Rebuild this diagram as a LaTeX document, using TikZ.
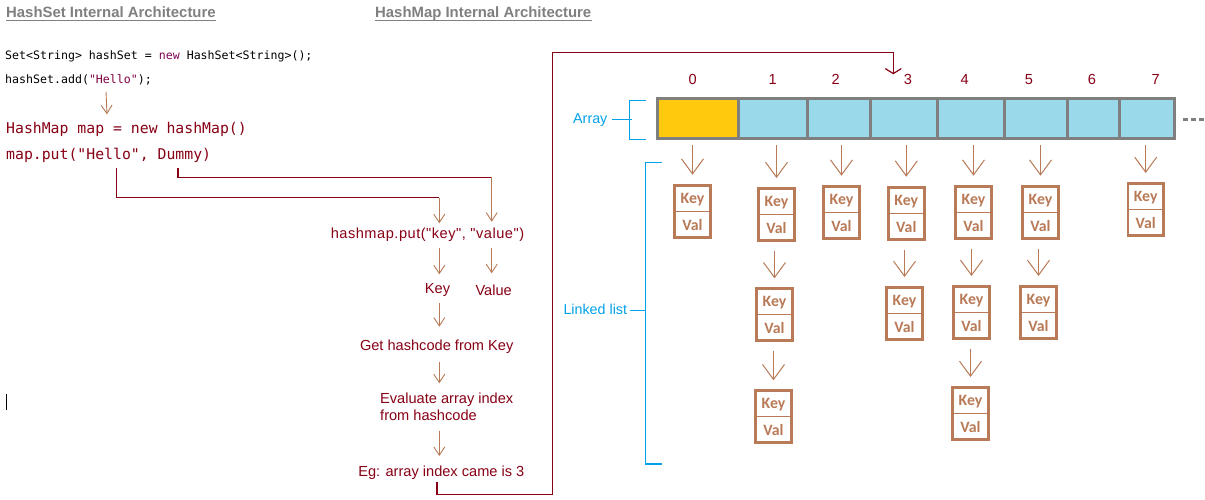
\documentclass[tikz,border=0pt]{standalone}
\usepackage{fontspec}
\setmainfont{Liberation Sans}
\newfontfamily\codefont{DejaVu Sans Mono}
\newfontfamily\kvfont{Carlito}
\newfontfamily\spacedfont{Liberation Sans}[LetterSpace=3.5]
\usetikzlibrary{arrows.meta,calc}
\definecolor{brn}{HTML}{B97A57}
\definecolor{dred}{HTML}{880015}
\definecolor{bl}{HTML}{00A2E8}
\definecolor{gry}{HTML}{7F7F7F}
\definecolor{ylw}{HTML}{FFC90E}
\definecolor{lbl}{HTML}{99D9EA}
\definecolor{kwd}{HTML}{7F0055}
\definecolor{strc}{HTML}{800040}
\definecolor{ttl}{HTML}{808080}
\newcommand\KVbox[3]{%
  \node[kv] (#1) at (#2,#3+27.3) {};
  \draw[kvdiv] (#1.west) -- (#1.east);
  \node[kvt] (#1k) at ($(#1.center)+(0,-8)$) {Key};
  \node[kvt] (#1v) at ($(#1.center)+(0,18.7)$) {Val};
}
\begin{document}
\begin{tikzpicture}[x=1pt,y=-1pt,
  title/.style={anchor=base west, inner sep=0, text=ttl, font=\bfseries\fontsize{14.9}{17}\selectfont},
  tul/.style={draw=ttl, line width=1.3pt},
  codes/.style={anchor=base west, inner sep=0, font=\codefont\fontsize{11.6}{13}\selectfont},
  codel/.style={anchor=base west, inner sep=0, text=dred, font=\codefont\fontsize{14.8}{17}\selectfont},
  flow/.style={anchor=base, inner sep=0, text=dred, font=\fontsize{14.6}{16.6}\selectfont},
  blab/.style={anchor=base west, inner sep=0, text=bl, font=\fontsize{14.3}{16}\selectfont},
  bluel/.style={draw=bl, line width=1.1pt},
  redln/.style={draw=dred, line width=1.2pt},
  smarr/.style={draw=brn, line width=0.9pt, -{Straight Barb[length=8.3pt,width=11pt]}},
  bigarr/.style={draw=brn, line width=1pt, -{Straight Barb[length=15pt,width=22pt]}},
  cell/.style={draw=gry, line width=3pt, minimum height=40.3pt, inner sep=0},
  kv/.style={draw=brn, line width=2.7pt, minimum width=35.7pt, minimum height=51.9pt, inner sep=0, fill=white},
  kvdiv/.style={draw=brn, line width=1pt},
  kvt/.style={anchor=base, inner sep=0, text=brn, font=\kvfont\bfseries\fontsize{15.8}{18}\selectfont}]
\useasboundingbox[fill=white] (0,0) rectangle (1205,500);

% titles
\node[title] (tset) at (6,18) {HashSet Internal Architecture};
\node[title] (tmap) at (375,18) {HashMap Internal Architecture};
\draw[tul] ($(tset.base west)+(0,2.4)$) -- ($(tset.base east)+(0,2.4)$);
\draw[tul] ($(tmap.base west)+(0,2.4)$) -- ($(tmap.base east)+(0,2.4)$);

% code
\node[codes] (hs1) at (5,60) {Set<String> hashSet = \textcolor{kwd}{new} HashSet<String>();};
\node[codes] (hs2) at (5,83.3) {hashSet.add(\textcolor{strc}{"Hello"});};
\node[codel] (hm1) at (6,134) {HashMap map = new hashMap()};
\node[codel] (mput) at (6,160) {map.put("Hello", Dummy)};
\draw[smarr] ($(hs2.base west)+(101,8.4)$) -- ($(hm1.base west)+(101,-19.7)$);

% flow
\coordinate (fx) at (439.3,0);
\coordinate (vx) at (491.7,0);
\node[flow, font=\spacedfont\fontsize{14.6}{16.6}\selectfont] (tput) at (427.5,238.3) {hashmap.put("key", "value")};
\node[flow] (key) at (437.5,293.3) {Key};
\node[flow] (value) at (493.7,295) {Value};
\node[flow] (get) at (436.7,350) {Get hashcode from Key};
\node[flow, anchor=base west] (eval1) at (380,403.3) {Evaluate array index};
\node[flow, anchor=base west] (eval2) at (380,420) {from hashcode};
\node[flow] (eg) at (441.3,476) {Eg: array index came is 3};

\coordinate (hb) at (439.3,197.7);
\coordinate (db) at (491.7,177.3);
\draw[redln] ($(mput.base west)+(110.5,7.7)$) |- (hb);
\draw[smarr] (hb) -- ($(fx |- tput.base)+(0,-15)$);
\draw[redln] ($(mput.base west)+(172,7.7)$) |- (db);
\draw[smarr] (db) -- ($(vx |- tput.base)+(0,-16.6)$);

\draw[smarr] ($(fx |- tput.base)+(0,10)$) -- ($(fx |- key.base)+(0,-19)$);
\draw[smarr] ($(vx |- tput.base)+(0,10)$) -- ($(vx |- value.base)+(0,-21.7)$);
\draw[smarr] ($(fx |- key.base)+(0,10)$) -- ($(fx |- get.base)+(0,-23.3)$);
\draw[smarr] ($(fx |- get.base)+(0,11.7)$) -- ($(fx |- eval1.base)+(0,-20)$);
\draw[smarr] ($(fx |- eval2.base)+(0,10.7)$) -- ($(fx |- eg.base)+(0,-20)$);

% array
\foreach \n/\xa/\xb/\fc in {c0/657.2/738/ylw, c1/738/807.7/lbl, c2/807.7/870.7/lbl, c3/870.7/937.3/lbl, c4/937.3/1004.7/lbl, c5/1004.7/1067.7/lbl, c6/1067.7/1119.3/lbl, c7/1119.3/1174.2/lbl}
  \node[cell, fill=\fc, minimum width={\xb-\xa}] (\n) at ({(\xa+\xb)/2},118.35) {};
\draw[gry, line width=3pt, dash pattern=on 5pt off 3pt] ($(c7.east)+(7.5,1.6)$) -- ++(21,0);

\foreach \n/\xx/\t in {l0/692.7/0, l1/772.7/1, l2/835.7/2, l3/908/3, l4/964.7/4, l5/1029/5, l6/1092/6, l7/1155.7/7}
  \node[flow] (\n) at (\xx,85) {\t};

% red connector to index 3
\coordinate (rb1) at (552.3,494.3);
\coordinate (rb2) at (552.3,52.7);
\draw[redln, -{Straight Barb[length=5pt,width=16pt]}] ($(eg.base)+(-4.3,6)$) |- (rb1) -- (rb2) -| ($(l3.base)+(-14.7,-10.7)$);

% blue labels
\node[blab] (arrlbl) at (573,124) {Array};
\draw[bluel] ($(arrlbl.base east)+(4,-4.7)$) -- ++(20.3,0);
\draw[bluel] ($(c0.north west)+(-9.5,3.5)$) -| ($(c0.west)+(-25.9,0)$) |- ($(c0.south west)+(-9.5,-0.2)$);
\node[blab] (llbl) at (563.3,314) {Linked list};
\draw[bluel] ($(llbl.base east)+(2.6,-3.7)$) -- ++(16.4,0);
\draw[bluel] (661.7,162.7) -| (645.7,464) -- (661.7,464);

% key/value boxes
\KVbox{k0a}{692.5}{184}
\KVbox{k1a}{776.5}{187.3}
\KVbox{k2a}{841.5}{185}
\KVbox{k3a}{906.3}{186}
\KVbox{k4a}{973.5}{185}
\KVbox{k5a}{1040.5}{185}
\KVbox{k7a}{1145.7}{182.3}
\KVbox{k1b}{774.5}{287.3}
\KVbox{k3b}{904.5}{286}
\KVbox{k4b}{971.5}{285}
\KVbox{k5b}{1038.5}{285}
\KVbox{k1c}{773.5}{389.3}
\KVbox{k4c}{970.5}{386}

\foreach \c/\b in {c0/k0a, c1/k1a, c2/k2a, c3/k3a, c4/k4a, c5/k5a, c7/k7a}
  \draw[bigarr] ($(\b |- \c.south)+(0,5.5)$) -- ($(\b.north)+(0,-9.3)$);
\foreach \a/\b in {k1a/k1b, k1b/k1c, k3a/k3b, k4a/k4b, k4b/k4c, k5a/k5b}
  \draw[bigarr] ($(\b |- \a.south)+(0,9)$) -- ($(\b.north)+(0,-9)$);

% stray text caret
\draw[black, line width=0.8pt] (6,394) -- (6,410);
\end{tikzpicture}
\end{document}
